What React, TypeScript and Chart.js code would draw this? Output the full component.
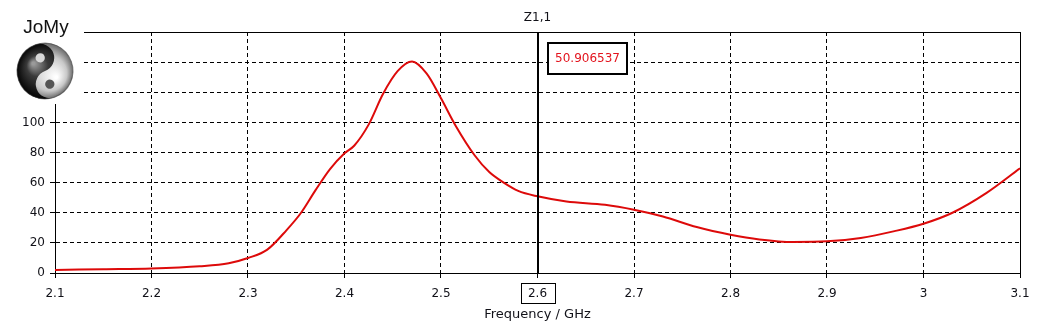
import React, { useEffect, useRef } from "react";
import { Chart, registerables } from "chart.js";

Chart.register(...registerables);

// ---- data ----
const FREQ_GHZ = [
  2.1, 2.15, 2.2, 2.25, 2.28, 2.3, 2.32, 2.34, 2.355, 2.37, 2.385, 2.4, 2.41,
  2.425, 2.44, 2.455, 2.47, 2.485, 2.5, 2.515, 2.535, 2.55, 2.565, 2.58, 2.6,
  2.63, 2.67, 2.7, 2.73, 2.765, 2.8, 2.83, 2.865, 2.9, 2.935, 2.97, 3.0, 3.03,
  3.065, 3.1,
];
const Z11_VALUES = [
  2.0, 2.5, 3.0, 4.5, 6.5, 10, 15.5, 28.5, 40, 55, 69, 79.5, 84.5, 98.5, 119,
  134, 140.4, 132.5, 116, 98, 78, 67, 60, 54.5, 50.9, 47.5, 45.3, 42, 37.5,
  30.5, 25.4, 22.3, 20.6, 21, 23.3, 27.8, 32.7, 40, 53, 69.5,
];
const X_TICKS = [2.1, 2.2, 2.3, 2.4, 2.5, 2.6, 2.7, 2.8, 2.9, 3.0, 3.1];
const Y_TICKS = [0, 20, 40, 60, 80, 100, 120, 140, 160];
const Y_LABELED_MAX = 100;
const MARKER_FREQ = 2.6;
const MARKER_NAME = "Z1,1";
const MARKER_VALUE = "50.906537";
const X_TITLE = "Frequency / GHz";
const LOGO_TEXT = "JoMy";

const FONT = "'DejaVu Sans', Verdana, sans-serif";
const TEXT_COLOR = "#111118";
const LINE_RED = "#dd0a0a";

const fmtX = (v: number) => String(Number(v.toFixed(1)));

const align1 = (p: number) => Math.round(p - 0.5) + 0.5;

function drawYinYang(ctx: CanvasRenderingContext2D, cx: number, cy: number, r: number) {
  ctx.save();
  ctx.translate(cx, cy);
  ctx.rotate(-0.35);
  const light = ctx.createRadialGradient(r * 0.3, r * 0.35, r * 0.05, 0, 0, r);
  light.addColorStop(0, "#ffffff");
  light.addColorStop(0.6, "#c8c8c8");
  light.addColorStop(1, "#6a6a6a");
  ctx.beginPath();
  ctx.arc(0, 0, r, 0, Math.PI * 2);
  ctx.fillStyle = light;
  ctx.fill();
  const dark = ctx.createRadialGradient(-r * 0.3, -r * 0.4, r * 0.05, 0, 0, r);
  dark.addColorStop(0, "#9a9a9a");
  dark.addColorStop(0.35, "#3a3a3a");
  dark.addColorStop(1, "#050505");
  ctx.beginPath();
  ctx.arc(0, 0, r, -Math.PI / 2, Math.PI / 2, true);
  ctx.arc(0, r / 2, r / 2, Math.PI / 2, -Math.PI / 2, false);
  ctx.arc(0, -r / 2, r / 2, Math.PI / 2, -Math.PI / 2, true);
  ctx.closePath();
  ctx.fillStyle = dark;
  ctx.fill();
  ctx.beginPath();
  ctx.arc(0, -r / 2, r / 6, 0, Math.PI * 2);
  ctx.fillStyle = "#d8d8d8";
  ctx.fill();
  ctx.beginPath();
  ctx.arc(0, r / 2, r / 6, 0, Math.PI * 2);
  ctx.fillStyle = "#555";
  ctx.fill();
  ctx.beginPath();
  ctx.arc(0, 0, r, 0, Math.PI * 2);
  ctx.strokeStyle = "rgba(60,60,60,0.6)";
  ctx.lineWidth = 1;
  ctx.stroke();
  ctx.restore();
}

const overlayPlugin = {
  id: "overlay",
  afterDraw(chart: any) {
    const { ctx, chartArea } = chart;
    const { left, right, top, bottom } = chartArea;
    const xs = chart.scales.x;
    ctx.save();

    ctx.strokeStyle = "#000";
    ctx.lineWidth = 1;
    ctx.setLineDash([]);
    ctx.beginPath();
    ctx.moveTo(left, align1(top));
    ctx.lineTo(right + 1, align1(top));
    ctx.moveTo(align1(right), top);
    ctx.lineTo(align1(right), bottom);
    ctx.stroke();

    const mx = xs.getPixelForValue(MARKER_FREQ);
    const mxa = Math.round(mx - 1) + 1;
    ctx.lineWidth = 2;
    ctx.beginPath();
    ctx.moveTo(mxa, top);
    ctx.lineTo(mxa, bottom);
    ctx.stroke();

    ctx.font = `12px ${FONT}`;
    ctx.fillStyle = TEXT_COLOR;
    ctx.textAlign = "center";
    ctx.textBaseline = "middle";
    ctx.fillText(MARKER_NAME, mx, 17.5);

    const bx = Math.round(mx) + 10;
    const by = 43;
    const bw = 79;
    const bh = 31;
    ctx.fillStyle = "#fff";
    ctx.fillRect(bx, by, bw, bh);
    ctx.lineWidth = 2;
    ctx.strokeStyle = "#000";
    ctx.strokeRect(bx, by, bw, bh);
    ctx.fillStyle = "#e3141e";
    ctx.fillText(MARKER_VALUE, bx + bw / 2, by + bh / 2 + 0.5);

    ctx.lineWidth = 1;
    ctx.strokeRect(Math.round(mx) - 17 + 0.5, 283.5, 34, 20);

    ctx.fillStyle = TEXT_COLOR;
    ctx.font = `13px ${FONT}`;
    ctx.fillText(X_TITLE, (left + right) / 2, 315);

    ctx.fillStyle = "#fff";
    ctx.fillRect(0, 0, 84, 104);
    ctx.fillStyle = "#111";
    ctx.font = `19px 'Liberation Sans', Arial, sans-serif`;
    ctx.textAlign = "center";
    ctx.textBaseline = "alphabetic";
    ctx.fillText(LOGO_TEXT, 46, 33);
    drawYinYang(ctx, 45, 71, 28);

    ctx.restore();
  },
};

export default function App() {
  const ref = useRef<HTMLCanvasElement | null>(null);

  useEffect(() => {
    if (!ref.current) return;
    const points = FREQ_GHZ.map((f, i) => ({ x: f, y: Z11_VALUES[i] }));
    const chart = new Chart(ref.current, {
      type: "line",
      data: {
        datasets: [
          {
            label: MARKER_NAME,
            data: points,
            borderColor: LINE_RED,
            borderWidth: 2,
            pointRadius: 0,
            cubicInterpolationMode: "monotone",
            fill: false,
          },
        ],
      },
      options: {
        animation: false,
        responsive: false,
        devicePixelRatio: 1,
        layout: { padding: { top: 32, right: 34, bottom: 0, left: 0 } },
        plugins: {
          legend: { display: false },
          tooltip: { enabled: false },
          title: { display: false },
        },
        scales: {
          x: {
            type: "linear",
            min: 2.1,
            max: 3.1,
            afterBuildTicks: (s: any) => {
              s.ticks = X_TICKS.map((v) => ({ value: v }));
            },
            afterFit: (s: any) => {
              s.height = 52;
            },
            ticks: {
              callback: (v: any) => fmtX(Number(v)),
              font: { family: FONT, size: 12 },
              color: TEXT_COLOR,
              padding: 9,
              maxRotation: 0,
              autoSkip: false,
            },
            grid: {
              color: "#000",
              lineWidth: 1,
              tickLength: 5,
              tickColor: "#000",
              tickBorderDash: [],
            },
            border: { display: true, color: "#000", width: 1, dash: [4, 3] },
          },
          y: {
            min: 0,
            max: 160,
            afterBuildTicks: (s: any) => {
              s.ticks = Y_TICKS.map((v) => ({ value: v }));
            },
            afterFit: (s: any) => {
              s.width = 55;
            },
            ticks: {
              callback: (v: any) => (Number(v) <= Y_LABELED_MAX ? String(v) : ""),
              font: { family: FONT, size: 12 },
              color: TEXT_COLOR,
              padding: 5,
              autoSkip: false,
            },
            grid: {
              color: "#000",
              lineWidth: 1,
              tickLength: 5,
              tickColor: "#000",
              tickBorderDash: [],
            },
            border: { display: true, color: "#000", width: 1, dash: [4, 3] },
          },
        },
      },
      plugins: [overlayPlugin],
    } as any);
    return () => chart.destroy();
  }, []);

  return (
    <div style={{ position: "absolute", left: 0, top: 0, width: 1054, height: 325, background: "#fff" }}>
      <canvas ref={ref} width={1054} height={325} style={{ display: "block" }} />
    </div>
  );
}
